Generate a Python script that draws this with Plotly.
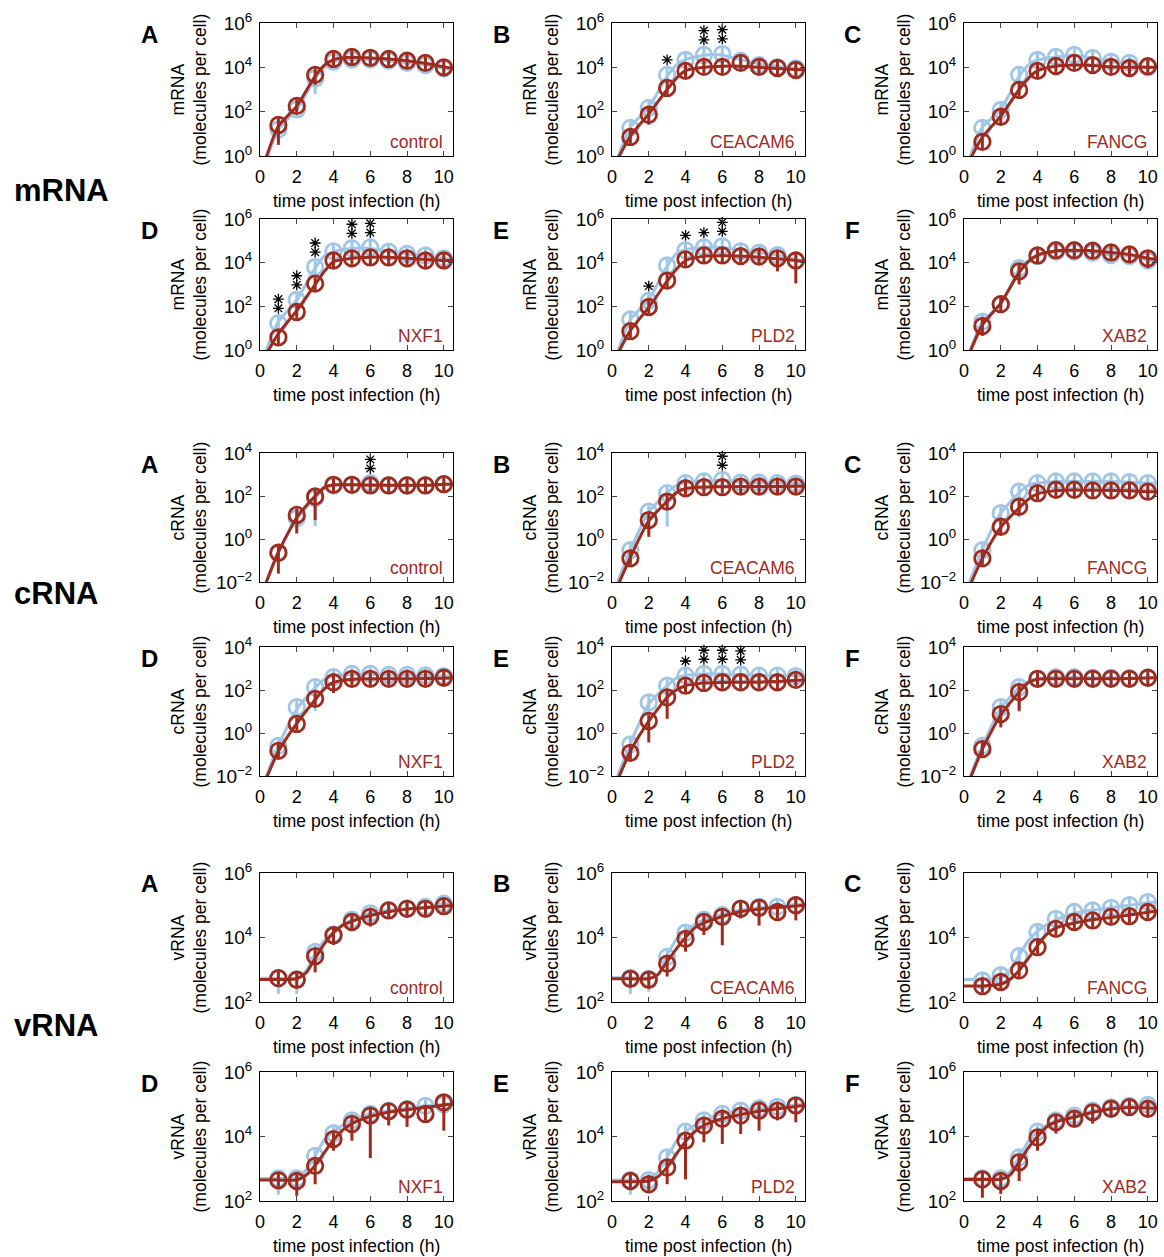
import plotly.graph_objects as go

# ---------------- data (log10 of molecules per cell) ----------------
TIMES = [1, 2, 3, 4, 5, 6, 7, 8, 9, 10]
FIT_T_EARLY = [0.3, 1, 2, 3, 3.5, 4, 5, 6, 7, 8, 9, 10, 10.5]
FIT_T_V = [0, 1, 2, 2.5, 3, 3.5, 4, 4.5, 5, 6, 7, 8, 9, 10, 10.5]
GENES = ["control", "CEACAM6", "FANCG", "NXF1", "PLD2", "XAB2"]
LETTERS = ["A", "B", "C", "D", "E", "F"]
GROUPS = ["mRNA", "cRNA", "vRNA"]

# mRNA
MRNA_BLUE = [
    [1.2, 2.1, 3.5, 4.25, 4.35, 4.35, 4.3, 4.2, 4.1, 3.95],
    [1.27, 2.17, 3.66, 4.33, 4.56, 4.6, 4.3, 4.1, 4.0, 3.95],
    [1.27, 2.08, 3.66, 4.33, 4.47, 4.56, 4.42, 4.25, 4.2, 4.0],
    [1.23, 2.3, 3.8, 4.52, 4.66, 4.7, 4.5, 4.4, 4.33, 4.2],
    [1.4, 2.25, 3.87, 4.57, 4.7, 4.75, 4.52, 4.45, 4.35, 4.1],
    [1.3, 2.1, 3.75, 4.3, 4.5, 4.5, 4.45, 4.35, 4.3, 4.1],
]
MRNA_RED = [
    [1.4, 2.26, 3.66, 4.38, 4.47, 4.43, 4.38, 4.3, 4.2, 4.0],
    [0.86, 1.86, 3.07, 3.84, 4.02, 4.02, 4.2, 4.02, 3.97, 3.88],
    [0.64, 1.77, 2.98, 3.84, 4.06, 4.2, 4.1, 4.02, 3.97, 4.05],
    [0.58, 1.74, 3.04, 4.1, 4.2, 4.24, 4.24, 4.2, 4.1, 4.1],
    [0.86, 1.97, 3.18, 4.15, 4.33, 4.33, 4.3, 4.28, 4.2, 4.1],
    [1.1, 2.1, 3.6, 4.33, 4.57, 4.57, 4.55, 4.47, 4.38, 4.2],
]
MRNA_BLUE_FIT = [
    [-0.3, 1.2, 2.1, 3.5, 4.0, 4.25, 4.35, 4.35, 4.3, 4.2, 4.1, 3.95, 3.9],
    [-0.1, 1.3, 2.2, 3.6, 4.1, 4.35, 4.55, 4.55, 4.35, 4.15, 4.05, 3.95, 3.92],
    [-0.1, 1.3, 2.1, 3.6, 4.1, 4.33, 4.47, 4.55, 4.42, 4.25, 4.18, 4.0, 3.97],
    [-0.1, 1.3, 2.3, 3.75, 4.3, 4.5, 4.65, 4.65, 4.5, 4.4, 4.3, 4.2, 4.15],
    [-0.1, 1.4, 2.3, 3.85, 4.4, 4.6, 4.7, 4.7, 4.55, 4.45, 4.35, 4.15, 4.1],
    [-0.1, 1.3, 2.1, 3.7, 4.1, 4.3, 4.5, 4.5, 4.45, 4.35, 4.3, 4.1, 4.05],
]
MRNA_RED_FIT = [
    [-0.15, 1.35, 2.25, 3.6, 4.1, 4.35, 4.45, 4.42, 4.38, 4.3, 4.18, 4.02, 3.95],
    [-0.15, 0.9, 1.9, 3.0, 3.5, 3.85, 4.0, 4.05, 4.05, 4.0, 3.95, 3.9, 3.88],
    [-0.2, 0.85, 1.8, 3.0, 3.5, 3.85, 4.05, 4.1, 4.08, 4.03, 4.0, 4.0, 4.0],
    [-0.25, 0.75, 1.8, 3.0, 3.6, 4.05, 4.2, 4.25, 4.25, 4.2, 4.15, 4.1, 4.1],
    [-0.2, 0.9, 1.95, 3.15, 3.7, 4.1, 4.3, 4.32, 4.3, 4.25, 4.18, 4.1, 4.05],
    [-0.15, 1.15, 2.15, 3.55, 4.05, 4.35, 4.55, 4.57, 4.55, 4.47, 4.38, 4.2, 4.15],
]
MRNA_BLUE_LO = [
    [0.5, 0.3, 0.7, 0.3, 0.3, 0.3, 0.3, 0.3, 0.3, 0.3],
    [0.3] * 10, [0.3] * 10, [0.3] * 10, [0.3] * 10, [0.3] * 10,
]
MRNA_RED_LO = [
    [0.9, 0.3, 0.45, 0.3, 0.3, 0.3, 0.3, 0.3, 0.3, 0.4],
    [0.3, 0.45, 0.3, 0.3, 0.3, 0.3, 0.3, 0.3, 0.3, 0.3],
    [0.3] * 10,
    [0.3] * 10,
    [0.3, 0.3, 0.3, 0.3, 0.3, 0.3, 0.3, 0.3, 0.6, 1.05],
    [0.45, 0.4, 0.6, 0.3, 0.3, 0.3, 0.3, 0.3, 0.3, 0.45],
]
MRNA_STARS = [
    [], [(3, 1), (5, 2), (6, 2)], [],
    [(1, 2), (2, 2), (3, 2), (5, 2), (6, 2)], [(2, 1), (4, 1), (5, 1), (6, 2)], [],
]

# cRNA
CRNA_BLUE = [
    [-0.64, 0.96, 1.9, 2.5, 2.52, 2.6, 2.5, 2.5, 2.5, 2.55],
    [-0.52, 1.27, 2.13, 2.6, 2.68, 2.75, 2.62, 2.62, 2.6, 2.58],
    [-0.52, 1.2, 2.2, 2.6, 2.68, 2.68, 2.68, 2.68, 2.65, 2.6],
    [-0.6, 1.2, 2.13, 2.6, 2.75, 2.75, 2.7, 2.7, 2.68, 2.65],
    [-0.53, 1.42, 2.2, 2.67, 2.75, 2.75, 2.72, 2.67, 2.67, 2.65],
    [-0.6, 1.2, 2.13, 2.52, 2.6, 2.6, 2.57, 2.57, 2.55, 2.57],
]
CRNA_RED = [
    [-0.64, 1.12, 1.98, 2.52, 2.52, 2.49, 2.49, 2.49, 2.49, 2.55],
    [-0.9, 0.88, 1.74, 2.36, 2.41, 2.41, 2.44, 2.44, 2.44, 2.44],
    [-0.9, 0.57, 1.5, 2.13, 2.29, 2.29, 2.26, 2.26, 2.26, 2.2],
    [-0.83, 0.42, 1.59, 2.36, 2.52, 2.52, 2.52, 2.52, 2.52, 2.57],
    [-0.92, 0.56, 1.66, 2.2, 2.33, 2.36, 2.36, 2.36, 2.36, 2.47],
    [-0.75, 0.88, 1.9, 2.52, 2.52, 2.52, 2.52, 2.52, 2.52, 2.57],
]
CRNA_BLUE_FIT = [
    [-2.1, -0.65, 0.95, 1.9, 2.35, 2.5, 2.52, 2.55, 2.5, 2.5, 2.5, 2.55, 2.55],
    [-2.0, -0.5, 1.25, 2.15, 2.5, 2.62, 2.7, 2.72, 2.65, 2.62, 2.6, 2.58, 2.58],
    [-2.0, -0.5, 1.2, 2.15, 2.5, 2.6, 2.68, 2.68, 2.68, 2.68, 2.65, 2.6, 2.6],
    [-2.1, -0.6, 1.1, 2.1, 2.5, 2.65, 2.72, 2.74, 2.7, 2.7, 2.68, 2.65, 2.65],
    [-2.0, -0.5, 1.35, 2.2, 2.55, 2.68, 2.75, 2.75, 2.72, 2.68, 2.67, 2.65, 2.65],
    [-2.1, -0.6, 1.15, 2.1, 2.4, 2.52, 2.6, 2.6, 2.57, 2.57, 2.55, 2.57, 2.57],
]
CRNA_RED_FIT = [
    [-2.1, -0.6, 1.0, 2.0, 2.4, 2.52, 2.52, 2.5, 2.5, 2.5, 2.5, 2.55, 2.55],
    [-2.2, -0.85, 0.85, 1.75, 2.15, 2.35, 2.42, 2.43, 2.44, 2.44, 2.44, 2.45, 2.45],
    [-2.2, -0.9, 0.55, 1.45, 1.85, 2.1, 2.25, 2.28, 2.27, 2.26, 2.25, 2.2, 2.2],
    [-2.2, -0.85, 0.45, 1.55, 2.05, 2.35, 2.5, 2.52, 2.52, 2.52, 2.53, 2.55, 2.56],
    [-2.2, -0.85, 0.55, 1.65, 2.0, 2.2, 2.32, 2.35, 2.36, 2.37, 2.4, 2.45, 2.47],
    [-2.2, -0.75, 0.85, 1.9, 2.35, 2.5, 2.52, 2.52, 2.52, 2.52, 2.53, 2.56, 2.57],
]
CRNA_BLUE_LO = [
    [0.3, 0.3, 1.3, 0.3, 0.3, 0.3, 0.3, 0.3, 0.3, 0.3],
    [0.3, 0.3, 1.55, 0.3, 0.3, 0.3, 0.3, 0.3, 0.3, 0.3],
    [0.3, 0.5, 1.2, 0.3, 0.3, 0.3, 0.3, 0.3, 0.3, 0.3],
    [0.3, 0.3, 1.1, 0.3, 0.3, 0.3, 0.3, 0.3, 0.3, 0.3],
    [0.3, 0.5, 0.3, 0.3, 0.3, 0.3, 0.3, 0.3, 0.3, 0.3],
    [0.4, 0.3, 1.15, 0.3, 0.3, 0.3, 0.3, 0.3, 0.3, 0.3],
]
CRNA_RED_LO = [
    [0.97, 0.86, 1.1, 0.3, 0.3, 0.3, 0.3, 0.3, 0.3, 0.4],
    [0.3, 0.78, 0.3, 0.3, 0.3, 0.3, 0.3, 0.3, 0.3, 0.3],
    [0.3] * 10,
    [0.3, 0.3, 0.3, 0.5, 0.3, 0.3, 0.3, 0.3, 0.3, 0.3],
    [0.3, 1.0, 1.0, 0.3, 0.3, 0.3, 0.3, 0.3, 0.4, 0.3],
    [0.3, 0.62, 0.86, 0.3, 0.3, 0.3, 0.3, 0.3, 0.3, 0.3],
]
CRNA_STARS = [
    [(6, 2)], [(6, 2)], [],
    [], [(4, 1), (5, 2), (6, 2), (7, 2)], [],
]

# vRNA
VRNA_BLUE = [
    [2.74, 2.7, 3.55, 4.1, 4.55, 4.75, 4.85, 4.9, 4.95, 5.05],
    [2.75, 2.72, 3.4, 4.15, 4.55, 4.7, 4.9, 4.95, 4.95, 5.0],
    [2.67, 2.83, 3.42, 4.17, 4.58, 4.79, 4.84, 4.92, 5.0, 5.1],
    [2.7, 2.7, 3.4, 4.1, 4.5, 4.7, 4.8, 4.85, 4.95, 5.0],
    [2.65, 2.65, 3.35, 4.15, 4.5, 4.7, 4.8, 4.87, 4.92, 4.98],
    [2.7, 2.7, 3.35, 4.15, 4.5, 4.65, 4.8, 4.9, 4.95, 4.98],
]
VRNA_RED = [
    [2.74, 2.69, 3.42, 4.07, 4.48, 4.64, 4.84, 4.89, 4.89, 4.97],
    [2.72, 2.69, 3.19, 3.96, 4.48, 4.64, 4.89, 4.92, 4.79, 5.0],
    [2.49, 2.62, 2.98, 3.7, 4.27, 4.48, 4.53, 4.64, 4.66, 4.79],
    [2.64, 2.62, 3.09, 3.92, 4.39, 4.65, 4.78, 4.83, 4.7, 5.06],
    [2.62, 2.52, 3.04, 3.87, 4.34, 4.55, 4.65, 4.8, 4.8, 4.96],
    [2.67, 2.62, 3.2, 3.97, 4.44, 4.55, 4.75, 4.86, 4.91, 4.86],
]
VRNA_BLUE_FIT = [
    [2.74, 2.74, 2.75, 2.95, 3.5, 3.9, 4.15, 4.4, 4.55, 4.75, 4.85, 4.9, 4.95, 5.05, 5.07],
    [2.75, 2.75, 2.75, 2.85, 3.45, 3.95, 4.2, 4.4, 4.55, 4.72, 4.85, 4.93, 4.97, 5.02, 5.03],
    [2.7, 2.7, 2.75, 3.0, 3.45, 3.9, 4.2, 4.4, 4.55, 4.75, 4.85, 4.92, 5.0, 5.08, 5.1],
    [2.7, 2.7, 2.72, 2.95, 3.4, 3.9, 4.15, 4.35, 4.5, 4.7, 4.8, 4.88, 4.95, 5.0, 5.02],
    [2.65, 2.65, 2.68, 2.9, 3.35, 3.85, 4.15, 4.35, 4.5, 4.7, 4.8, 4.87, 4.92, 4.98, 5.0],
    [2.7, 2.7, 2.72, 2.9, 3.35, 3.85, 4.15, 4.35, 4.5, 4.65, 4.8, 4.9, 4.95, 4.98, 5.0],
]
VRNA_RED_FIT = [
    [2.7, 2.7, 2.72, 2.9, 3.35, 3.8, 4.15, 4.38, 4.5, 4.68, 4.8, 4.88, 4.92, 4.97, 4.99],
    [2.72, 2.72, 2.72, 2.85, 3.25, 3.65, 4.0, 4.3, 4.45, 4.65, 4.8, 4.88, 4.93, 4.98, 5.0],
    [2.5, 2.5, 2.55, 2.7, 2.98, 3.35, 3.75, 4.1, 4.3, 4.45, 4.55, 4.62, 4.7, 4.78, 4.82],
    [2.65, 2.65, 2.65, 2.8, 3.1, 3.5, 3.9, 4.2, 4.4, 4.62, 4.75, 4.83, 4.9, 4.98, 5.0],
    [2.6, 2.6, 2.62, 2.75, 3.05, 3.45, 3.85, 4.15, 4.35, 4.55, 4.68, 4.78, 4.86, 4.93, 4.96],
    [2.67, 2.67, 2.67, 2.8, 3.2, 3.65, 4.0, 4.3, 4.45, 4.6, 4.75, 4.85, 4.9, 4.88, 4.88],
]
VRNA_BLUE_LO = [
    [0.48, 0.45, 0.4, 0.2, 0.2, 0.2, 0.2, 0.2, 0.2, 0.2],
    [0.5, 0.4, 0.2, 0.2, 0.2, 0.2, 0.2, 0.2, 0.2, 0.2],
    [0.2] * 10,
    [0.5, 0.3, 0.2, 0.2, 0.2, 0.2, 0.2, 0.2, 0.2, 0.2],
    [0.45, 0.3, 0.2, 0.2, 0.2, 0.2, 0.2, 0.2, 0.2, 0.2],
    [0.3, 0.2, 0.2, 0.2, 0.2, 0.2, 0.2, 0.2, 0.2, 0.2],
]
VRNA_RED_LO = [
    [0.2, 0.2, 0.5, 0.3, 0.2, 0.3, 0.2, 0.2, 0.2, 0.2],
    [0.2, 0.2, 0.4, 0.4, 0.4, 0.88, 0.3, 0.55, 0.2, 0.47],
    [0.2] * 10,
    [0.2, 0.46, 0.57, 0.36, 0.52, 1.32, 0.44, 0.53, 0.2, 0.88],
    [0.2, 0.2, 0.52, 1.2, 0.52, 0.78, 0.57, 0.62, 0.3, 0.52],
    [0.57, 0.4, 0.58, 0.41, 0.35, 0.2, 0.35, 0.2, 0.2, 0.2],
]
VRNA_STARS = [[], [], [], [], [], []]

Y_RANGES = [(0, 6), (-2, 4), (2, 6)]
Y_TICKS = [[0, 2, 4, 6], [-2, 0, 2, 4], [2, 4, 6]]
X_TICKS = [0, 2, 4, 6, 8, 10]

# ---------------- styling / layout constants ----------------
W, H = 1164, 1257
COL_LEFT = [260, 612, 964]
COL_W = 193
ROW_TOP = [23, 219, 453, 647, 873, 1072]
ROW_BOT = [156, 350, 582, 776, 1002, 1201]
GROUP_LABEL_Y = [190, 593, 1025]
BLUE = "#9fc6e7"
RED = "#9e2b1d"
FONT = "Liberation Sans, Arial, Helvetica, sans-serif"
INNER_ERR = [0.3, 0.3, 0.2]

DATA = [
    (MRNA_BLUE, MRNA_RED, MRNA_BLUE_FIT, MRNA_RED_FIT, MRNA_BLUE_LO, MRNA_RED_LO, MRNA_STARS, FIT_T_EARLY),
    (CRNA_BLUE, CRNA_RED, CRNA_BLUE_FIT, CRNA_RED_FIT, CRNA_BLUE_LO, CRNA_RED_LO, CRNA_STARS, FIT_T_EARLY),
    (VRNA_BLUE, VRNA_RED, VRNA_BLUE_FIT, VRNA_RED_FIT, VRNA_BLUE_LO, VRNA_RED_LO, VRNA_STARS, FIT_T_V),
]


def px_x(v):
    return v / W


def px_y(v):
    return 1 - v / H


def sup(e):
    s = str(e).replace("-", "\u2212")
    return f"10<sup>{s}</sup>"


fig = go.Figure()
layout = dict(
    width=W, height=H,
    margin=dict(l=0, r=0, t=0, b=0, pad=0, autoexpand=False),
    paper_bgcolor="white", plot_bgcolor="white", showlegend=False,
    font=dict(family=FONT, size=17, color="black"),
)
annotations = []

for g in range(3):
    blue, red, bfit, rfit, blo, rlo, stars, fit_t = DATA[g]
    inner = INNER_ERR[g]
    for p in range(6):
        row = 2 * g + p // 3
        col = p % 3
        idx = g * 6 + p + 1
        xa = "x" if idx == 1 else f"x{idx}"
        ya = "y" if idx == 1 else f"y{idx}"
        xk = "xaxis" if idx == 1 else f"xaxis{idx}"
        yk = "yaxis" if idx == 1 else f"yaxis{idx}"
        left, top, bot = COL_LEFT[col], ROW_TOP[row], ROW_BOT[row]

        layout[xk] = dict(
            domain=[px_x(left), px_x(left + COL_W)], anchor=ya,
            range=[0, 10.5], tickvals=X_TICKS, ticks="inside", ticklen=5,
            showline=True, linecolor="black", linewidth=1, mirror="ticks",
            showgrid=False, zeroline=False, tickfont=dict(size=18),
            ticklabelstandoff=4, automargin=False,
        )
        lo_r, hi_r = Y_RANGES[g]
        layout[yk] = dict(
            domain=[px_y(bot), px_y(top)], anchor=xa, type="log",
            range=[lo_r, hi_r], tickvals=[10 ** e for e in Y_TICKS[g]],
            ticktext=[sup(e) for e in Y_TICKS[g]], ticks="inside", ticklen=5,
            showline=True, linecolor="black", linewidth=1, mirror="ticks",
            showgrid=False, zeroline=False, tickfont=dict(size=19),
            ticklabelstandoff=3, automargin=False,
        )

        for vals, fit, lo, color in ((blue[p], bfit[p], blo[p], BLUE), (red[p], rfit[p], rlo[p], RED)):
            fig.add_trace(go.Scatter(
                x=fit_t, y=[10 ** v for v in fit], mode="lines",
                line=dict(color=color, width=3, shape="spline", smoothing=0.6),
                xaxis=xa, yaxis=ya, hoverinfo="skip",
            ))
            ys = [10 ** v for v in vals]
            fig.add_trace(go.Scatter(
                x=TIMES, y=ys, mode="markers",
                marker=dict(symbol="circle-open", size=15.5, color=color,
                            line=dict(width=2.8, color=color)),
                error_y=dict(type="data", symmetric=False,
                             array=[10 ** (v + inner) - 10 ** v for v in vals],
                             arrayminus=[10 ** v - 10 ** (v - d) for v, d in zip(vals, lo)],
                             color=color, thickness=3, width=0),
                xaxis=xa, yaxis=ya, hoverinfo="skip",
            ))

        sx, sy = [], []
        for t, n in stars[p]:
            base = max(blue[p][t - 1], red[p][t - 1]) + 0.68
            for k in range(n):
                sx.append(t)
                sy.append(10 ** (base + 0.42 * k))
        if sx:
            fig.add_trace(go.Scatter(
                x=sx, y=sy, mode="markers",
                marker=dict(symbol="asterisk-open", size=9, color="black",
                            line=dict(width=1.3, color="black")),
                xaxis=xa, yaxis=ya, hoverinfo="skip", cliponaxis=False,
            ))

        # texts
        annotations.append(dict(
            x=px_x(left - 111), y=px_y(top + 11), xref="paper", yref="paper",
            text=f"<b>{LETTERS[p]}</b>", showarrow=False, font=dict(size=24),
            xanchor="center", yanchor="middle",
        ))
        annotations.append(dict(
            x=px_x(left - 71), y=px_y((top + bot) / 2), xref="paper", yref="paper",
            text=f"{GROUPS[g]}<br>(molecules per cell)", showarrow=False,
            textangle=-90, font=dict(size=17.5), xanchor="center", yanchor="middle",
        ))
        annotations.append(dict(
            x=px_x(left + COL_W / 2), y=px_y(bot + 45), xref="paper", yref="paper",
            text="time post infection (h)", showarrow=False, font=dict(size=17.5),
            xanchor="center", yanchor="middle",
        ))
        annotations.append(dict(
            x=px_x(left + COL_W - 8), y=px_y(bot - 14), xref="paper", yref="paper",
            text=GENES[p], showarrow=False, font=dict(size=17.5, color=RED),
            xanchor="right", yanchor="middle",
        ))

    annotations.append(dict(
        x=px_x(12), y=px_y(GROUP_LABEL_Y[g]), xref="paper", yref="paper",
        text=f"<b>{GROUPS[g]}</b>", showarrow=False, font=dict(size=31),
        xanchor="left", yanchor="middle",
    ))

layout["annotations"] = annotations
fig.update_layout(**layout)
fig.write_html("out.html")
